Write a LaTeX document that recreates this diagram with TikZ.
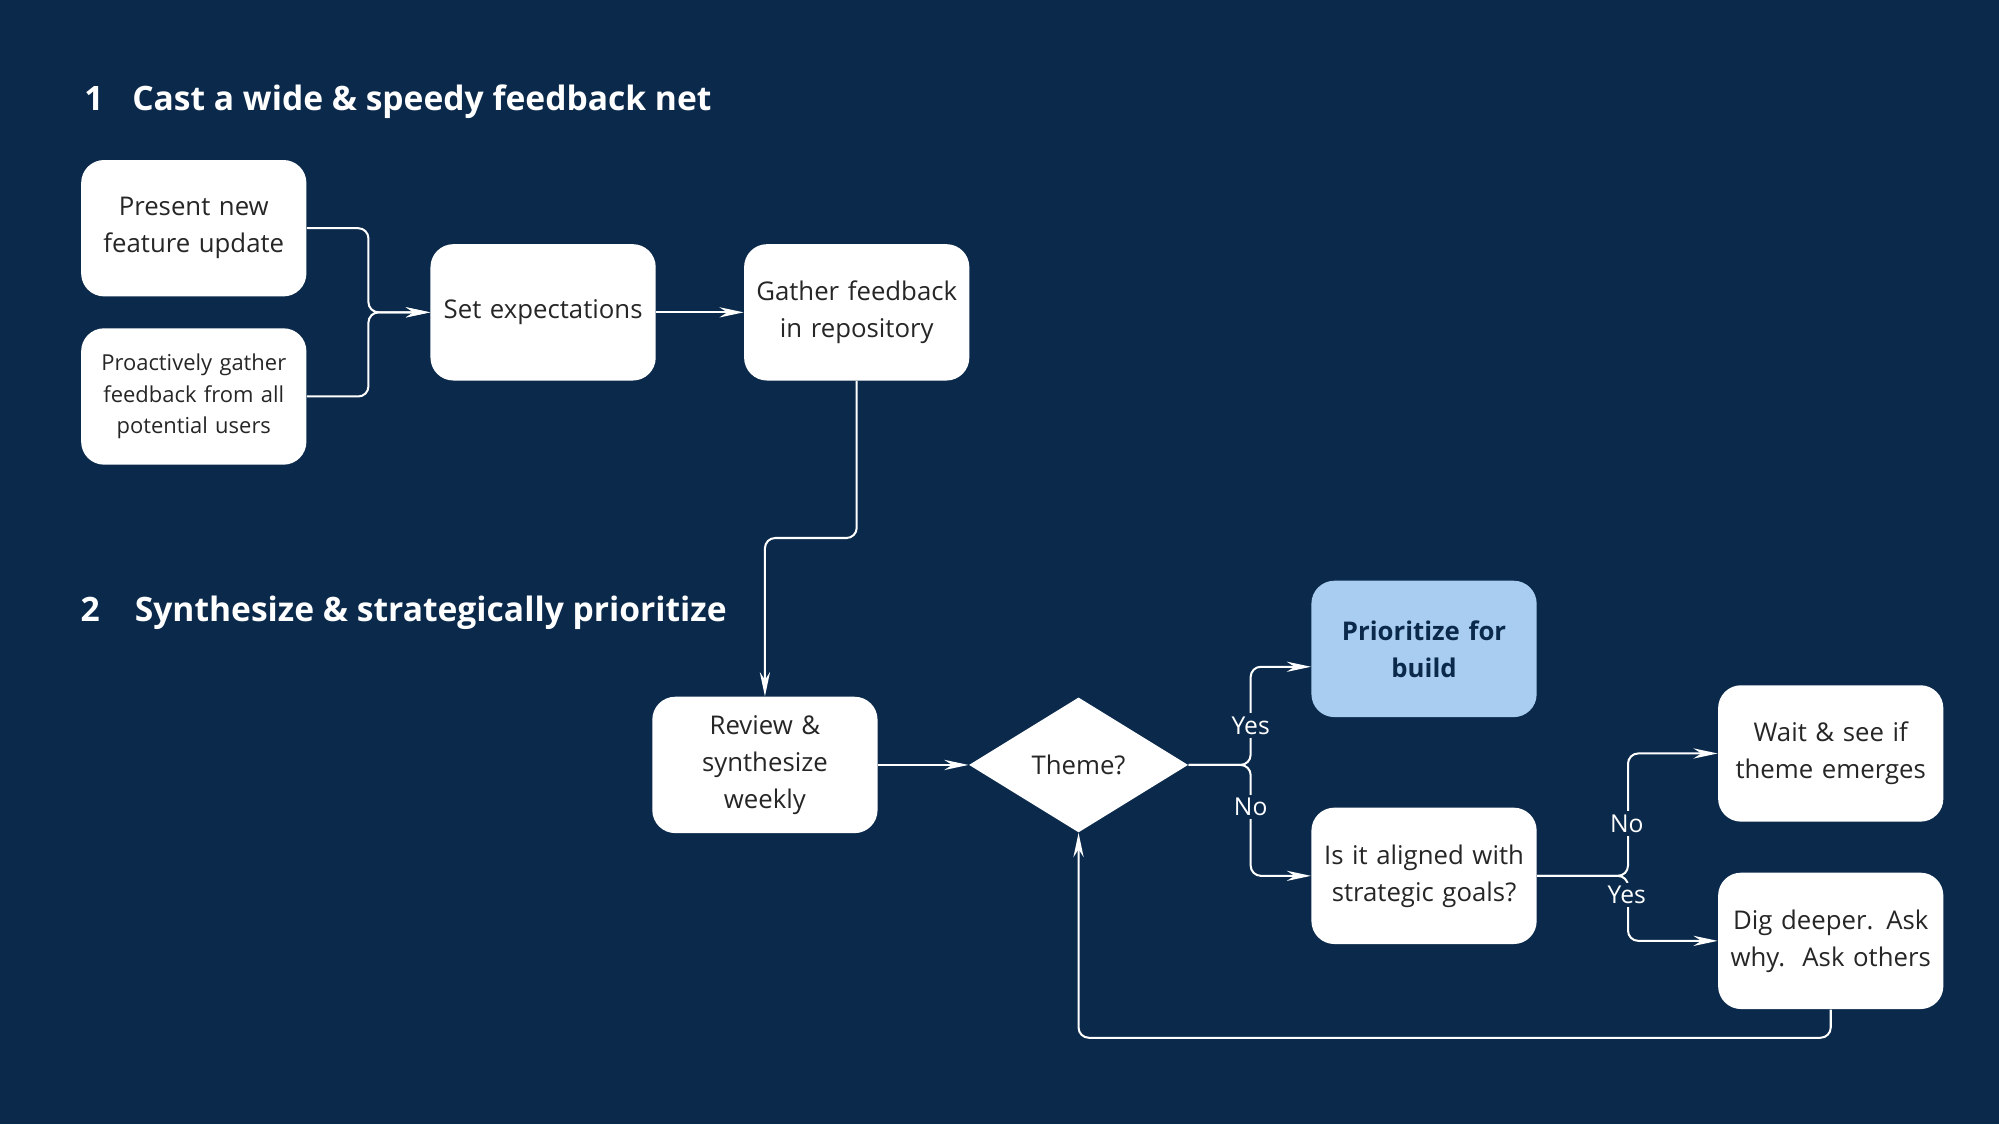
\documentclass[tikz,border=0pt]{standalone}
\usepackage{fontspec}
\setmainfont{Open Sans}
\usetikzlibrary{arrows.meta,shapes.geometric}
\definecolor{bg}{HTML}{0B2A4B}
\definecolor{hl}{HTML}{A9CDF0}
\begin{document}
\begin{tikzpicture}[x=0.02cm,y=-0.02cm,
 box/.style={draw=none,fill=white,rounded corners=0.36cm,minimum width=3.46cm,minimum height=2.14cm,align=center,text width=3.3cm,font=\fontsize{11.5}{16.5}\selectfont,text=black!85},
 con/.style={draw=white,line width=0.9pt,rounded corners=0.16cm,-{Stealth[length=0.38cm,width=0.16cm]}},
 lab/.style={fill=bg,text=white,font=\fontsize{11}{13}\selectfont,inner sep=1.5pt},
 head/.style={text=white,font=\bfseries\fontsize{15}{18}\selectfont,anchor=west}]
\fill[bg] (0,0) rectangle (1568,882);
\useasboundingbox (0,0) rectangle (1568,882);
\node[head] (h1) at (60,80) {1\hspace{0.45cm}Cast a wide \& speedy feedback net};
\node[head] (h2) at (57,481) {2\hspace{0.55cm}Synthesize \& strategically prioritize};
\node[box] (present) at (152,179) {Present new\\feature update};
\node[box,font=\fontsize{9.8}{14}\selectfont] (proact) at (152,311) {Proactively gather\\feedback from all\\potential users};
\node[box] (set) at (426,245) {Set expectations};
\node[box] (gather) at (672,245) {Gather feedback\\in repository};
\node[box] (review) at (600,600) {Review \&\\synthesize\\weekly};
\node[diamond,fill=white,minimum width=3.44cm,minimum height=2.12cm,inner sep=0pt,font=\fontsize{11.5}{14}\selectfont,text=black!85] (theme) at (846,600) {Theme?};
\node[box,fill=hl,text=bg,font=\bfseries\fontsize{11.5}{16.5}\selectfont] (prio) at (1117,509) {Prioritize for\\build};
\node[box] (align) at (1117,687) {Is it aligned with\\strategic goals?};
\node[box] (wait) at (1436,591) {Wait \& see if\\theme emerges};
\node[box] (dig) at (1436,738) {Dig deeper. Ask\\why.\ \ Ask others};
\coordinate (c1) at (289,245);
\draw[con] (present.east) -| (c1) -- (set.west);
\draw[con] (proact.east) -| (c1) -- (set.west);
\draw[con] (set) -- (gather);
\coordinate (g1) at (672,422);
\coordinate (g2) at (600,422);
\draw[con] (gather.south) -- (g1) -- (g2) -- (review.north);
\draw[con] (review) -- (theme);
\coordinate (t1) at (981,600);
\coordinate (t2) at (981,523);
\coordinate (t3) at (981,687);
\draw[con] (theme.east) -- (t1) -- (t2) -- (prio.west |- t2);
\draw[con] (theme.east) -- (t1) -- (t3) -- (align.west);
\node[lab] (yes1) at (981,569) {Yes};
\node[lab] (no1) at (981,633) {No};
\coordinate (a1) at (1277,687);
\coordinate (a2) at (1277,591);
\coordinate (a3) at (1277,738);
\draw[con] (align.east) -- (a1) -- (a2) -- (wait.west);
\draw[con] (align.east) -- (a1) -- (a3) -- (dig.west);
\node[lab] (no2) at (1276,646) {No};
\node[lab] (yes2) at (1276,702) {Yes};
\coordinate (d1) at (1436,814);
\coordinate (d2) at (846,814);
\draw[con] (dig.south) -- (d1) -- (d2) -- (theme.south);
\end{tikzpicture}
\end{document}
